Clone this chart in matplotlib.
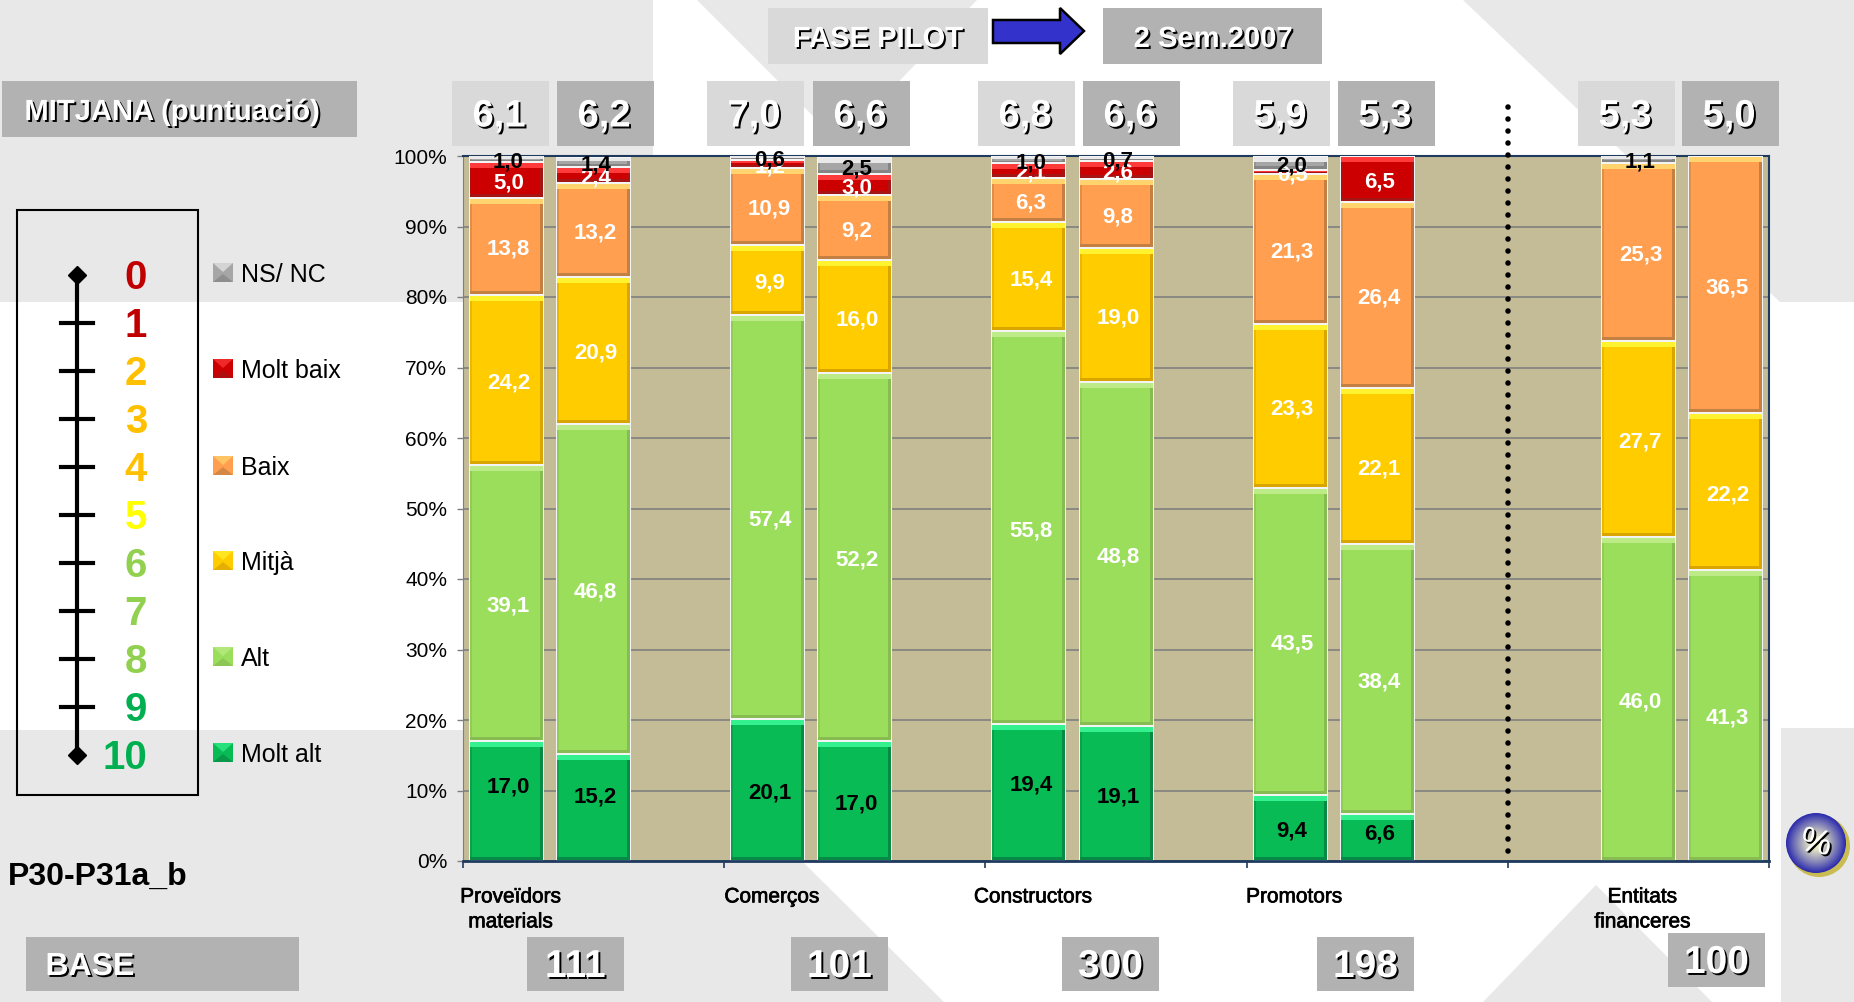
import matplotlib
matplotlib.use('Agg')
import matplotlib.pyplot as plt
import matplotlib.patheffects as pe
from matplotlib import ticker
from matplotlib.patches import Rectangle, Polygon, Ellipse
from matplotlib.transforms import ScaledTranslation
import numpy as np

plt.rcParams['font.family'] = ['Liberation Sans']

# values, one list per answer, one entry per bar
series_names = ['Molt alt', 'Alt', 'Mitjà', 'Baix', 'Molt baix', 'NS/ NC']
molt_alt = [17.0, 15.2, 20.1, 17.0, 19.4, 19.1, 9.4, 6.6, 0, 0]
alt = [39.1, 46.8, 57.4, 52.2, 55.8, 48.8, 43.5, 38.4, 46.0, 41.3]
mitja = [24.2, 20.9, 9.9, 16.0, 15.4, 19.0, 23.3, 22.1, 27.7, 22.2]
baix = [13.8, 13.2, 10.9, 9.2, 6.3, 9.8, 21.3, 26.4, 25.3, 36.5]
molt_baix = [5.0, 2.4, 1.2, 3.0, 2.1, 2.6, 0.5, 6.5, 0, 0]
ns_nc = [1.0, 1.4, 0.6, 2.5, 1.0, 0.7, 2.0, 0, 1.1, 0]

means = ['6,1', '6,2', '7,0', '6,6', '6,8', '6,6', '5,9', '5,3', '5,3', '5,0']
bases = ['111', '101', '300', '198', '100']
categories = ['Proveïdors\nmaterials', 'Comerços', 'Constructors', 'Promotors', 'Entitats\nfinanceres']
scale_labels = ['0', '1', '2', '3', '4', '5', '6', '7', '8', '9', '10']

# layout
slots = [0, 1, 3, 4, 6, 7, 9, 10, 13, 14]
cat_slots = [0, 3, 6, 9, 13]
group_edges = [-0.5, 2.5, 5.5, 8.5, 11.5, 14.5]
mean_left = [452, 557, 707, 813, 978, 1083, 1233, 1338, 1578, 1682]
base_left = [527, 791, 1062, 1317, 1668]
label_nudge = {(0, 0): 2.4, (1, 0): 1.9, (4, 0): 1.5, (7, 0): 1.0}

# main, top highlight, dark edge
styles = [('#09BB55', '#35F08E', '#078A45'),
          ('#9BDE5C', '#BDEB88', '#86BC52'),
          ('#FFCC00', '#FFF22E', '#D9A500'),
          ('#FF9F4F', '#FFD46E', '#C47F42'),
          ('#CC0000', '#FF3A3A', '#A51515'),
          ('#A6A6A6', '#E9E9E9', '#858585')]
scale_colors = ['#C00000', '#C00000', '#FFC000', '#FFC000', '#FFC000', '#FFFF00',
                '#92D050', '#92D050', '#92D050', '#00B050', '#00B050']
GREY_L = '#D9D9D9'
GREY_D = '#B2B2B2'
BG = '#E8E8E8'

W, H = 1854, 1002
fig = plt.figure(figsize=(W / 100, H / 100), dpi=100, facecolor='white')

# pixel canvas behind the chart
bg = fig.add_axes([0, 0, 1, 1], zorder=0)
bg.set_xlim(0, W)
bg.set_ylim(H, 0)
bg.axis('off')

for pts in [[(0, 0), (653, 0), (653, 302), (0, 302)],
            [(697, 0), (977, 0), (840, 143)],
            [(1463, 0), (W, 0), (W, 302), (1780, 302)],
            [(0, 730), (670, 730), (944, H), (0, H)],
            [(1483, H), (1596, 885), (1712, H)],
            [(1781, 728), (W, 728), (W, H), (1781, H)]]:
    bg.add_patch(Polygon(pts, closed=True, fc=BG, ec='none'))

shadow = [pe.withSimplePatchShadow(offset=(1.4, -1.4), shadow_rgbFace='black', alpha=1)]


def box(x0, y0, w, h, color, text, size, tx=None):
    bg.add_patch(Rectangle((x0, y0), w, h, fc=color, ec='none'))
    if tx is None:
        tx = x0 + w / 2
    bg.text(tx, y0 + h / 2 + 3, text, color='white', fontsize=size, fontweight='bold',
            ha='center', va='center', path_effects=shadow)


box(2, 81, 355, 56, GREY_D, 'MITJANA (puntuació)', 21, tx=172)
box(768, 8, 220, 56, GREY_L, 'FASE PILOT', 21, tx=878)
box(1103, 8, 219, 56, GREY_D, '2 Sem.2007', 21, tx=1213)
for i, m in enumerate(means):
    box(mean_left[i], 81, 97, 65, GREY_L if i % 2 == 0 else GREY_D, m, 27.5, tx=mean_left[i] + 47)
box(26, 937, 273, 54, GREY_D, 'BASE', 23, tx=90)
for i, b in enumerate(bases):
    box(base_left[i], 933 if i == 4 else 937, 97, 54, GREY_D, b, 28)

# blue arrow
bg.add_patch(Polygon([(993, 20), (1060, 20), (1060, 8), (1084, 31), (1060, 54), (1060, 43), (993, 43)],
                     closed=True, fc='#3333CC', ec='black', lw=1.8))

# scale panel
bg.add_patch(Rectangle((17, 210), 181, 585, fc='none', ec='black', lw=1.5))
bg.plot([77, 77], [275, 755], color='black', lw=3)
bg.plot([77, 77], [275, 755], ls='none', marker='D', ms=9.5, color='black')
for i, lab in enumerate(scale_labels):
    y = 275 + i * 48
    if 0 < i < 10:
        bg.plot([61, 93], [y, y], color='black', lw=3)
    bg.text(147, y - 1, lab, color=scale_colors[i], fontsize=29, fontweight='bold', ha='right', va='center_baseline')

# legend
legend_y = [753, 657, 561, 466, 369, 273]
for i, name in enumerate(series_names):
    y = legend_y[i]
    c, top, dark = styles[i]
    bg.add_patch(Rectangle((213, y - 10), 20, 19, fc=c, ec='none'))
    bg.add_patch(Polygon([(213, y - 10), (233, y - 10), (223, y - 1)], closed=True, fc=top, ec='none', alpha=0.7))
    bg.add_patch(Polygon([(213, y + 9), (233, y + 9), (223, y + 1)], closed=True, fc=dark, ec='none', alpha=0.7))
    bg.text(241, y + 2, name, fontsize=18, ha='left', va='center', color='black')

bg.text(8, 877, 'P30-P31a_b', fontsize=23, fontweight='bold', ha='left', va='center', color='black')

# % badge
bg.add_patch(Ellipse((1819, 846), 62, 62, fc='#C9BC52', ec='none'))
for t in np.linspace(0, 1, 30):
    col = (1 - t) * np.array([0.17, 0.17, 0.68]) + t * np.array([1.0, 1.0, 0.78])
    d = 58 * (1 - t) ** 0.8 + 2
    bg.add_patch(Ellipse((1816, 843), d, d, fc=col, ec='none'))
bg.text(1816, 843, '%', color='white', fontsize=25, ha='center', va='center', rotation=-12, path_effects=shadow)

# chart
ax = fig.add_axes([463 / W, 1 - 861 / H, (1769 - 463) / W, (861 - 156) / H], zorder=1)
ax.set_facecolor('#C4BC96')
ax.set_xlim(-0.5, 14.5)
ax.set_ylim(0, 100)
ax.set_axisbelow(True)
ax.yaxis.grid(True, color='#7F7F7F', lw=1.2)
ax.xaxis.grid(False)

py = 100 / 705
px = 15 / (1769 - 463)
bw = 73 * px
data = [molt_alt, alt, mitja, baix, molt_baix, ns_nc]
bottoms = np.zeros(len(slots))
for s, vals in enumerate(data):
    c, top, dark = styles[s]
    for i, v in enumerate(vals):
        if v == 0:
            continue
        x = slots[i]
        b = bottoms[i]
        ax.bar(x, v, bw + 2 * px, bottom=b, color='#F4F4F4', zorder=3)
        ax.bar(x, v - 2 * py, bw, bottom=b + py, color=c, zorder=3.05)
        t = min(5 * py, v * 0.35)
        d = min(3 * py, v * 0.2)
        ax.bar(x + bw / 2 - 1.5 * px, v - 2 * py, 3 * px, bottom=b + py, color=dark, zorder=3.1)
        ax.bar(x - bw / 2 + 1 * px, v - 2 * py, 2 * px, bottom=b + py, color=dark, alpha=0.5, zorder=3.1)
        ax.bar(x, d, bw, bottom=b + py, color=dark, zorder=3.2)
        ax.bar(x, t, bw, bottom=b + v - t - py, color=top, zorder=3.2)
    bottoms += np.array(vals)

bottoms = np.zeros(len(slots))
for s, vals in enumerate(data):
    for i, v in enumerate(vals):
        if v == 0:
            continue
        y = bottoms[i] + v / 2 + label_nudge.get((i, s), 0) - 3 * py
        ax.text(slots[i] + 2 * px, y, '{:.1f}'.format(v).replace('.', ','),
                color='black' if s in (0, 5) else 'white', fontsize=16, fontweight='bold',
                ha='center', va='center', zorder=5 + s, clip_on=False)
    bottoms += np.array(vals)

# dotted divider, drawn from the top so the first dot lands on the start
ax.plot([11.5, 11.5], [107, 0.6], color='black', lw=4, ls=(0, (0.01, 2.15)),
        dash_capstyle='round', clip_on=False, zorder=4)

ax.set_yticks(range(0, 101, 10))
ax.yaxis.set_major_formatter(ticker.PercentFormatter(100, decimals=0))
ax.tick_params(axis='y', length=4.5, width=1, color='#7F7F7F', pad=7, labelsize=15, labelcolor='black')

ax.set_xticks(group_edges)
ax.set_xticklabels([])
ax.tick_params(axis='x', which='major', length=5, width=1.2, color='#1F3A5F')
ax.set_xticks(cat_slots, labels=categories, minor=True)
ax.tick_params(axis='x', which='minor', length=0, pad=19, labelsize=15)
nudge = ScaledTranslation(3 / 72, 0, fig.dpi_scale_trans)
for lab in ax.get_xticklabels(minor=True):
    lab.set_linespacing(1.4)
    lab.set_path_effects([pe.withStroke(linewidth=0.5, foreground='black')])
    lab.set_transform(lab.get_transform() + nudge)

for side in ['top', 'right', 'bottom']:
    ax.spines[side].set_color('#1F3A5F')
    ax.spines[side].set_linewidth(1.5)
ax.spines['bottom'].set_linewidth(2)
ax.spines['bottom'].set_zorder(6)
ax.spines['left'].set_color('#7F7F7F')

fig.savefig('out.png', dpi=100)
